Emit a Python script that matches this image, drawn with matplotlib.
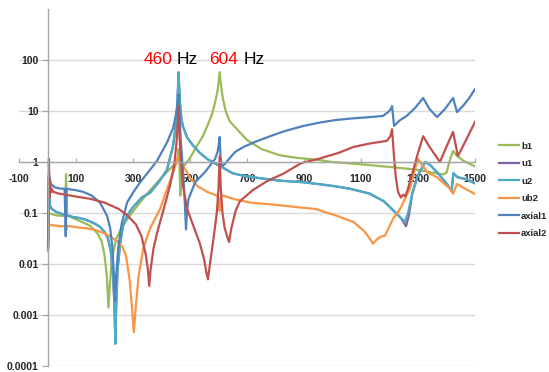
import matplotlib
matplotlib.use('Agg')
import matplotlib.pyplot as plt
from matplotlib.ticker import FixedLocator, NullLocator

# ---------------- data ----------------
b1_f = [2, 5, 15, 30, 50, 62, 65, 68, 80, 100, 125, 150, 175, 190, 200, 208, 214, 219, 226, 240, 262, 290, 320, 350,
        385, 415, 440, 452, 457, 460, 463, 466, 470, 480, 500, 525, 545, 560, 575, 585, 595, 600, 604, 608, 615, 625,
        640, 665, 700, 750, 816, 880, 950, 1000, 1100, 1200, 1270, 1300, 1350, 1388, 1400, 1412, 1423, 1435, 1460, 1500]
b1_v = [0.018, 0.1, 0.095, 0.09, 0.088, 0.088, 0.58, 0.09, 0.085, 0.075, 0.065, 0.056, 0.04, 0.028, 0.015, 0.006,
        0.0014, 0.004, 0.012, 0.03, 0.055, 0.09, 0.15, 0.24, 0.4, 0.6, 0.84, 0.95, 1.2, 1.8, 0.9, 0.22, 0.75, 0.85,
        1.2, 2.1, 3.2, 5, 8, 12.5, 22, 35, 58, 35, 18, 10, 6.2, 4.4, 2.7, 1.8, 1.35, 1.2, 1.1, 1.0, 0.9, 0.8, 0.73,
        0.7, 0.62, 0.57, 0.62, 1.1, 1.65, 1.35, 1.05, 0.82]

u2_f = [2, 5, 8, 15, 30, 50, 70, 90, 110, 130, 150, 170, 185, 200, 212, 222, 230, 235, 238, 241, 246, 255, 265, 280,
        300, 330, 360, 390, 419, 440, 450, 455, 458, 460, 462, 465, 470, 475, 490, 511, 535, 560, 585, 605, 625, 650,
        700, 760, 816, 900, 1000, 1060, 1130, 1180, 1215, 1240, 1254, 1265, 1280, 1300, 1325, 1345, 1370, 1400, 1418,
        1424, 1440, 1470, 1500]
u2_v = [0.02, 0.5, 0.14, 0.12, 0.105, 0.096, 0.09, 0.083, 0.08, 0.075, 0.068, 0.06, 0.053, 0.043, 0.032, 0.018,
        0.006, 0.0015, 0.00027, 0.0015, 0.008, 0.025, 0.056, 0.09, 0.13, 0.2, 0.25, 0.4, 0.7, 2.0, 5, 12, 30, 58, 30,
        14, 7, 5, 3, 2.1, 1.5, 1.15, 0.95, 0.84, 0.72, 0.6, 0.52, 0.47, 0.43, 0.4, 0.34, 0.3, 0.24, 0.17, 0.11, 0.08,
        0.068, 0.1, 0.25, 0.55, 1.0, 0.85, 0.6, 0.38, 0.27, 0.6, 0.5, 0.46, 0.38]

u1_f = [2, 5, 8, 15, 30, 50, 70, 90, 110, 130, 150, 170, 185, 200, 212, 222, 230, 235, 238, 241, 246, 255, 265, 280,
        300, 330, 360, 390, 419, 440, 450, 455, 458, 460, 462, 465, 470, 475, 490, 511, 535, 560, 585, 605, 625, 650,
        700, 760, 816, 900, 1000, 1060, 1130, 1180, 1215, 1240, 1258, 1268, 1280, 1300, 1325, 1345, 1370, 1400, 1418,
        1424, 1440, 1470, 1500]
u1_v = [0.02, 0.5, 0.14, 0.12, 0.105, 0.096, 0.09, 0.083, 0.08, 0.075, 0.068, 0.06, 0.053, 0.043, 0.032, 0.018,
        0.006, 0.0015, 0.0003, 0.0015, 0.008, 0.025, 0.056, 0.09, 0.13, 0.2, 0.25, 0.4, 0.7, 2.0, 5, 12, 30, 55, 30,
        14, 7, 5, 3, 2.1, 1.5, 1.15, 0.95, 0.84, 0.72, 0.6, 0.52, 0.47, 0.43, 0.4, 0.34, 0.3, 0.24, 0.17, 0.11, 0.08,
        0.055, 0.09, 0.24, 0.55, 1.0, 0.85, 0.6, 0.38, 0.27, 0.6, 0.5, 0.46, 0.38]

ub2_f = [2, 5, 10, 25, 45, 60, 65, 70, 90, 110, 140, 170, 200, 225, 245, 262, 275, 288, 296, 303, 310, 320, 336, 360,
         395, 420, 440, 452, 458, 462, 467, 476, 500, 525, 560, 595, 601, 604, 607, 616, 651, 711, 800, 876, 940, 1015,
         1073, 1110, 1130, 1142, 1155, 1167, 1184, 1212, 1237, 1272, 1290, 1300, 1332, 1367, 1412, 1423, 1437, 1465,
         1497]
ub2_v = [0.04, 0.06, 0.058, 0.057, 0.055, 0.055, 0.045, 0.056, 0.054, 0.052, 0.05, 0.046, 0.04, 0.033, 0.028, 0.022,
         0.015, 0.005, 0.0015, 0.00046, 0.0015, 0.006, 0.02, 0.05, 0.12, 0.3, 0.6, 0.95, 1.3, 1.2, 1.0, 0.84, 0.5,
         0.34, 0.26, 0.22, 0.18, 0.11, 0.2, 0.22, 0.19, 0.16, 0.145, 0.13, 0.12, 0.088, 0.067, 0.045, 0.032, 0.025,
         0.03, 0.034, 0.036, 0.076, 0.12, 0.3, 0.75, 1.15, 0.63, 0.5, 0.3, 0.24, 0.37, 0.3, 0.24]

axial1_f = [2, 5, 10, 25, 45, 60, 64, 67, 80, 100, 125, 155, 184, 209, 220, 228, 233, 237, 241, 248, 260, 279, 300,
            325, 355, 384, 419, 440, 450, 456, 460, 463, 467, 472, 477, 482, 486, 490, 495, 518, 553, 588, 597, 601,
            604, 607, 611, 616, 625, 645, 660, 690, 730, 781, 830, 898, 960, 1015, 1075, 1132, 1177, 1195, 1205, 1209,
            1216, 1235, 1260, 1290, 1318, 1340, 1367, 1395, 1423, 1437, 1460, 1480, 1500]
axial1_v = [0.022, 0.6, 0.38, 0.32, 0.3, 0.3, 0.035, 0.3, 0.29, 0.28, 0.26, 0.22, 0.16, 0.088, 0.05, 0.02, 0.006,
            0.0019, 0.006, 0.02, 0.06, 0.16, 0.25, 0.4, 0.65, 1.05, 2.4, 4.5, 8, 14, 21, 8, 3, 1.2, 0.5, 0.15, 0.048,
            0.12, 0.19, 0.4, 0.64, 1.15, 1.6, 2.2, 3.1, 1.3, 0.9, 0.85, 0.95, 1.3, 1.6, 2.0, 2.5, 3.2, 4.0, 5.1, 6.0,
            6.7, 7.2, 7.6, 8, 9.5, 11, 12.5, 5.1, 6.5, 8, 11.5, 18, 11, 7.6, 11, 18, 9.5, 13, 18, 27]

axial2_f = [2, 5, 7, 9, 11, 14, 20, 40, 60, 100, 150, 200, 250, 280, 310, 330, 345, 352, 357, 362, 372, 384, 406, 430,
            445, 452, 457, 460, 463, 468, 475, 490, 515, 535, 550, 557, 563, 570, 582, 594, 600, 604, 608, 614, 622,
            630, 637, 645, 660, 675, 720, 770, 830, 890, 950, 1020, 1073, 1130, 1191, 1203, 1209, 1215, 1222, 1230,
            1240, 1248, 1255, 1265, 1280, 1300, 1318, 1340, 1377, 1400, 1423, 1440, 1470, 1500]
axial2_v = [0.025, 1.15, 0.2, 0.45, 0.25, 0.3, 0.26, 0.24, 0.23, 0.21, 0.19, 0.16, 0.12, 0.09, 0.06, 0.035, 0.015,
            0.008, 0.0037, 0.008, 0.02, 0.04, 0.11, 0.35, 0.9, 2.2, 5.5, 12.5, 3.5, 1.0, 0.35, 0.12, 0.05, 0.025, 0.012,
            0.007, 0.005, 0.01, 0.03, 0.1, 0.3, 1.3, 0.3, 0.1, 0.05, 0.035, 0.027, 0.05, 0.11, 0.17, 0.28, 0.42, 0.6,
            0.95, 1.15, 1.5, 1.97, 2.3, 2.6, 3.2, 4.4, 1.5, 0.5, 0.26, 0.2, 0.23, 0.21, 0.3, 0.6, 1.5, 3.2, 2.0, 1.0,
            2.0, 3.9, 1.3, 2.8, 6.1]

series_names = ['b1', 'u1', 'u2', 'ub2', 'axial1', 'axial2']
series_colors = ['#9BBB59', '#8064A2', '#4BACC6', '#F79646', '#4F81BD', '#C0504D']
series_data = [(b1_f, b1_v), (u1_f, u1_v), (u2_f, u2_v), (ub2_f, ub2_v), (axial1_f, axial1_v), (axial2_f, axial2_v)]

x_ticks = [-100, 100, 300, 500, 700, 900, 1100, 1300, 1500]
y_ticks = [1e-4, 1e-3, 1e-2, 1e-1, 1, 10, 100]
y_tick_labels = ['0.0001', '0.001', '0.01', '0.1', '1', '10', '100']

# ---------------- figure ----------------
W, H = 549, 372
fig = plt.figure(figsize=(W / 100, H / 100), dpi=100)
ax = fig.add_axes([19 / W, (H - 366) / H, (475 - 19) / W, (366 - 9) / H])

for name, color, (f, v) in zip(series_names, series_colors, series_data):
    ax.plot(f, v, color=color, lw=1.6, label=name, solid_joinstyle='round')

ax.set_yscale('log')
ax.set_xlim(-100, 1500)
ax.set_ylim(1e-4, 1e3)

ax.yaxis.set_major_locator(FixedLocator(y_ticks))
ax.yaxis.set_minor_locator(NullLocator())
ax.set_yticklabels(y_tick_labels)
ax.set_xticks(x_ticks)
ax.set_xticklabels([str(t) for t in x_ticks])

for s in ['top', 'right']:
    ax.spines[s].set_visible(False)
ax.spines['left'].set_position(('data', 0))
ax.spines['bottom'].set_position(('data', 1))
for s in ['left', 'bottom']:
    ax.spines[s].set_color('#A6A6A6')
    ax.spines[s].set_linewidth(1.0)

ax.yaxis.grid(True, color='#D9D9D9', lw=1.0)
ax.set_axisbelow(True)

tick_font = dict(family='Liberation Sans', weight='bold', size=7.5)
ax.tick_params(axis='x', direction='in', length=3, color='#A6A6A6', pad=9, labelcolor='#262626')
ax.tick_params(axis='y', direction='out', length=4, color='#A6A6A6', pad=2.5, labelcolor='#262626')
for lab in ax.get_xticklabels() + ax.get_yticklabels():
    lab.set_fontproperties(matplotlib.font_manager.FontProperties(**tick_font))

leg = fig.legend(loc='center left', bbox_to_anchor=(499 / W, 1 - 190 / H), frameon=False,
                 prop=dict(family='Liberation Sans', weight='bold', size=6.8), handlelength=2.1,
                 handletextpad=0.25, labelspacing=0.9, borderpad=0, borderaxespad=0)
for t in leg.get_texts():
    t.set_color('#262626')

# annotations "460 Hz" / "604 Hz"
ann_font = dict(family='Liberation Sans', size=12.5)
fig.text(172 / W, 1 - 64 / H, '460', color='#FF0000', ha='right', va='baseline', **ann_font)
fig.text(177 / W, 1 - 64 / H, 'Hz', color='#000000', ha='left', va='baseline', **ann_font)
fig.text(238 / W, 1 - 64 / H, '604', color='#FF0000', ha='right', va='baseline', **ann_font)
fig.text(244 / W, 1 - 64 / H, 'Hz', color='#000000', ha='left', va='baseline', **ann_font)

fig.savefig('out.png', dpi=100)
